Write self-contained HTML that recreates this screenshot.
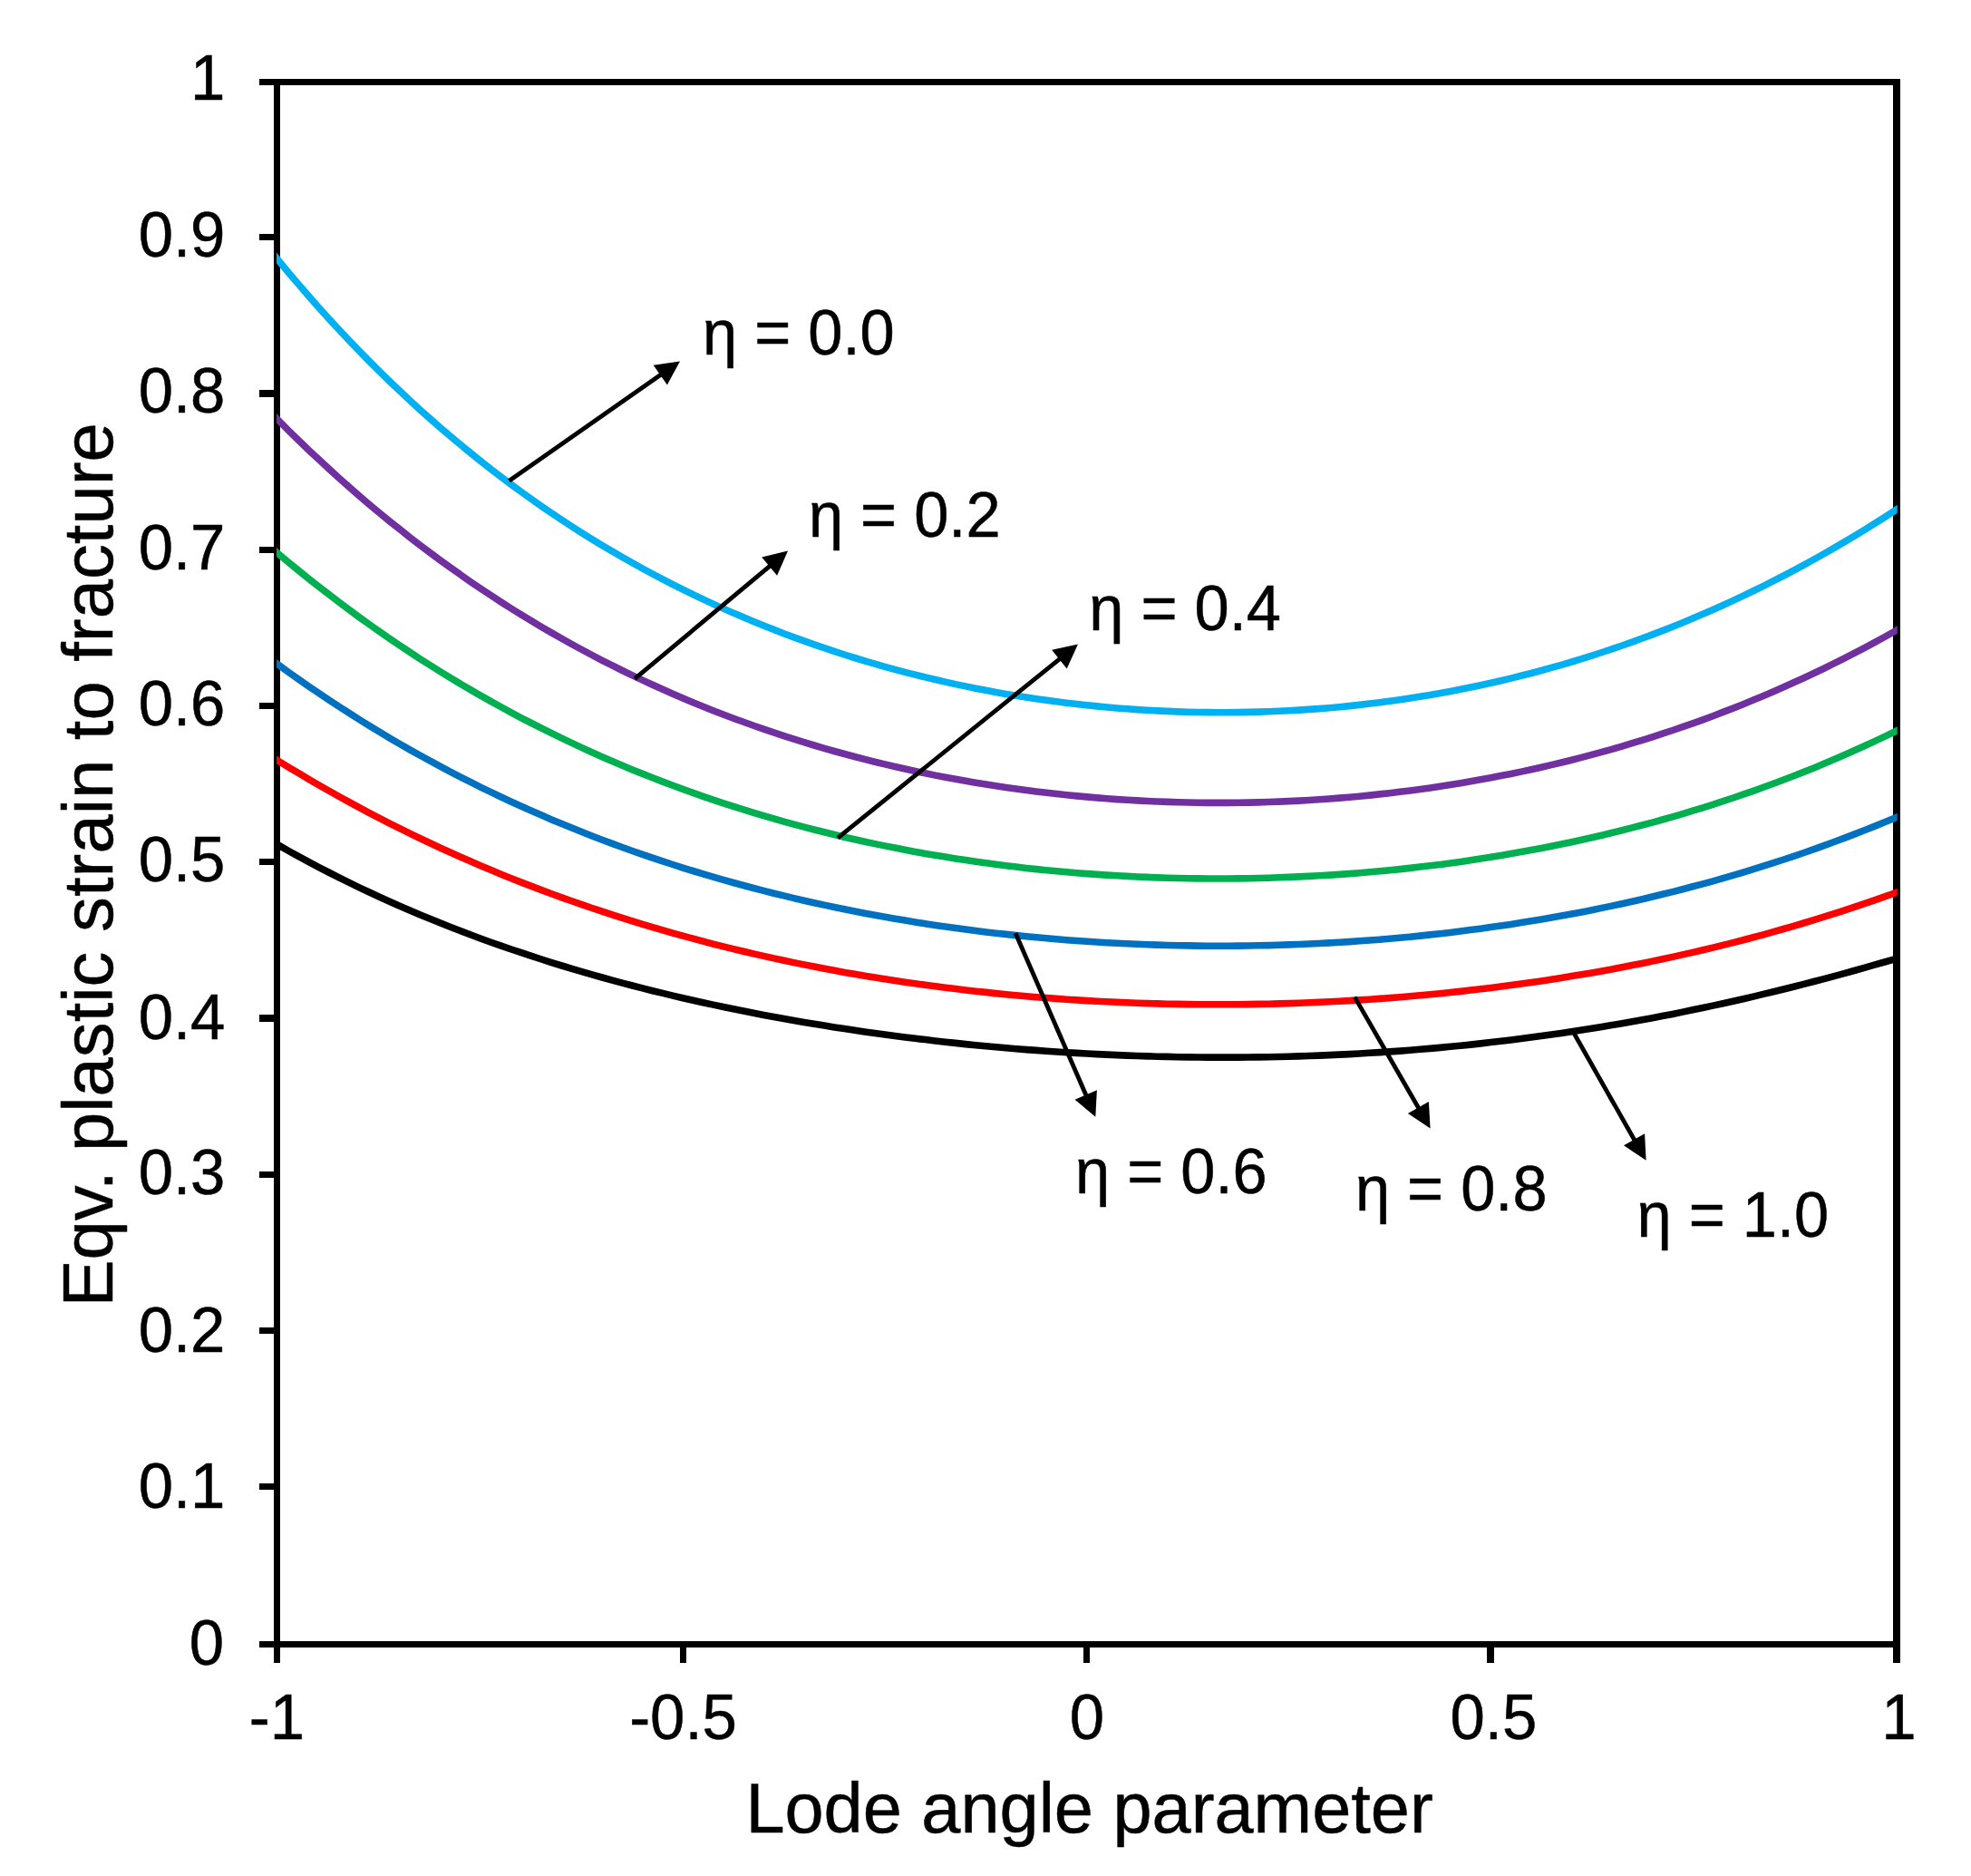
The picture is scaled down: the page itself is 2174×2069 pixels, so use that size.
<!DOCTYPE html>
<html lang="en"><head><meta charset="utf-8"><title>Fracture locus</title>
<style>
html,body{margin:0;padding:0;background:#fff}
svg{display:block}
text{font-family:"Liberation Sans",Arial,Helvetica,sans-serif;fill:#000;stroke:#000;stroke-width:0.5px}
</style></head><body>
<svg width="2174" height="2069" viewBox="0 0 2174 2069">
<rect width="2174" height="2069" fill="#fff"/>
<g stroke="#000" stroke-width="7.2" fill="none" shape-rendering="crispEdges">
<rect x="305.5" y="90.5" width="1786.5" height="1722.95"/>
<line x1="286" y1="1813.5" x2="305.5" y2="1813.5"/>
<line x1="286" y1="1639.7" x2="305.5" y2="1639.7"/>
<line x1="286" y1="1467.4" x2="305.5" y2="1467.4"/>
<line x1="286" y1="1295.2" x2="305.5" y2="1295.2"/>
<line x1="286" y1="1122.9" x2="305.5" y2="1122.9"/>
<line x1="286" y1="950.7" x2="305.5" y2="950.7"/>
<line x1="286" y1="778.5" x2="305.5" y2="778.5"/>
<line x1="286" y1="606.2" x2="305.5" y2="606.2"/>
<line x1="286" y1="434.0" x2="305.5" y2="434.0"/>
<line x1="286" y1="261.7" x2="305.5" y2="261.7"/>
<line x1="286" y1="90.5" x2="305.5" y2="90.5"/>
<line x1="305.5" y1="1813.45" x2="305.5" y2="1834"/>
<line x1="753.5" y1="1813.45" x2="753.5" y2="1834"/>
<line x1="1198.8" y1="1813.45" x2="1198.8" y2="1834"/>
<line x1="1644.0" y1="1813.45" x2="1644.0" y2="1834"/>
<line x1="2092.0" y1="1813.45" x2="2092.0" y2="1834"/>
</g>
<defs><clipPath id="plotclip"><rect x="305.0" y="90.5" width="1787.7" height="1722.95"/></clipPath></defs>
<g fill="none" stroke-width="7.6" stroke-linejoin="round" clip-path="url(#plotclip)">
<polyline stroke="#00B0F0" points="296.6,274.2 307.7,287.9 318.8,301.3 330.0,314.4 341.1,327.3 352.3,339.9 363.4,352.2 374.5,364.3 385.7,376.1 396.8,387.7 407.9,399.0 419.1,410.1 430.2,421.0 441.4,431.6 452.5,442.0 463.6,452.2 474.8,462.1 485.9,471.9 497.1,481.4 508.2,490.7 519.3,499.8 530.5,508.8 541.6,517.5 552.7,526.0 563.9,534.4 575.0,542.5 586.2,550.5 597.3,558.3 608.4,565.9 619.6,573.3 630.7,580.6 641.8,587.7 653.0,594.7 664.1,601.4 675.3,608.1 686.4,614.5 697.5,620.8 708.7,627.0 719.8,633.0 731.0,638.9 742.1,644.6 753.2,650.2 764.4,655.6 775.5,660.9 786.6,666.1 797.8,671.1 808.9,676.1 820.1,680.8 831.2,685.5 842.3,690.0 853.5,694.4 864.6,698.7 875.7,702.9 886.9,706.9 898.0,710.9 909.2,714.7 920.3,718.4 931.4,722.0 942.6,725.5 953.7,728.9 964.9,732.1 976.0,735.3 987.1,738.3 998.3,741.3 1009.4,744.1 1020.5,746.9 1031.7,749.5 1042.8,752.1 1054.0,754.6 1065.1,756.9 1076.2,759.2 1087.4,761.3 1098.5,763.4 1109.6,765.4 1120.8,767.2 1131.9,769.0 1143.1,770.7 1154.2,772.3 1165.3,773.8 1176.5,775.2 1187.6,776.6 1198.8,777.8 1209.9,778.9 1221.0,780.0 1232.2,781.0 1243.3,781.8 1254.4,782.6 1265.6,783.3 1276.7,783.9 1287.9,784.4 1299.0,784.9 1310.1,785.2 1321.3,785.5 1332.4,785.6 1343.5,785.7 1354.7,785.7 1365.8,785.6 1377.0,785.4 1388.1,785.1 1399.2,784.8 1410.4,784.3 1421.5,783.8 1432.6,783.1 1443.8,782.4 1454.9,781.6 1466.1,780.7 1477.2,779.7 1488.3,778.6 1499.5,777.4 1510.6,776.1 1521.8,774.7 1532.9,773.2 1544.0,771.7 1555.2,770.0 1566.3,768.3 1577.4,766.4 1588.6,764.5 1599.7,762.4 1610.9,760.3 1622.0,758.0 1633.1,755.7 1644.3,753.3 1655.4,750.7 1666.5,748.1 1677.7,745.3 1688.8,742.5 1700.0,739.5 1711.1,736.4 1722.2,733.3 1733.4,730.0 1744.5,726.6 1755.7,723.1 1766.8,719.5 1777.9,715.8 1789.1,712.0 1800.2,708.1 1811.3,704.0 1822.5,699.9 1833.6,695.6 1844.8,691.2 1855.9,686.7 1867.0,682.1 1878.2,677.3 1889.3,672.5 1900.4,667.5 1911.6,662.4 1922.7,657.1 1933.9,651.8 1945.0,646.3 1956.1,640.7 1967.3,635.0 1978.4,629.1 1989.6,623.1 2000.7,617.0 2011.8,610.8 2023.0,604.4 2034.1,597.9 2045.2,591.3 2056.4,584.5 2067.5,577.6 2078.7,570.5 2089.8,563.3 2100.9,556.0"/>
<polyline stroke="#7030A0" points="296.6,452.8 307.7,464.1 318.8,475.3 330.0,486.2 341.1,496.9 352.3,507.3 363.4,517.6 374.5,527.7 385.7,537.6 396.8,547.3 407.9,556.8 419.1,566.1 430.2,575.2 441.4,584.1 452.5,592.9 463.6,601.5 474.8,609.9 485.9,618.1 497.1,626.2 508.2,634.0 519.3,641.8 530.5,649.3 541.6,656.7 552.7,664.0 563.9,671.1 575.0,678.0 586.2,684.8 597.3,691.4 608.4,697.9 619.6,704.3 630.7,710.5 641.8,716.5 653.0,722.5 664.1,728.3 675.3,733.9 686.4,739.5 697.5,744.9 708.7,750.1 719.8,755.3 731.0,760.3 742.1,765.2 753.2,770.0 764.4,774.7 775.5,779.2 786.6,783.7 797.8,788.0 808.9,792.2 820.1,796.3 831.2,800.3 842.3,804.2 853.5,807.9 864.6,811.6 875.7,815.2 886.9,818.7 898.0,822.0 909.2,825.3 920.3,828.5 931.4,831.5 942.6,834.5 953.7,837.4 964.9,840.2 976.0,842.9 987.1,845.5 998.3,848.0 1009.4,850.5 1020.5,852.8 1031.7,855.1 1042.8,857.2 1054.0,859.3 1065.1,861.3 1076.2,863.2 1087.4,865.1 1098.5,866.8 1109.6,868.5 1120.8,870.1 1131.9,871.6 1143.1,873.0 1154.2,874.3 1165.3,875.6 1176.5,876.8 1187.6,877.9 1198.8,878.9 1209.9,879.9 1221.0,880.8 1232.2,881.6 1243.3,882.3 1254.4,882.9 1265.6,883.5 1276.7,884.0 1287.9,884.4 1299.0,884.8 1310.1,885.0 1321.3,885.2 1332.4,885.4 1343.5,885.4 1354.7,885.4 1365.8,885.3 1377.0,885.1 1388.1,884.9 1399.2,884.5 1410.4,884.1 1421.5,883.6 1432.6,883.1 1443.8,882.5 1454.9,881.8 1466.1,881.0 1477.2,880.1 1488.3,879.2 1499.5,878.2 1510.6,877.1 1521.8,875.9 1532.9,874.7 1544.0,873.3 1555.2,871.9 1566.3,870.4 1577.4,868.9 1588.6,867.2 1599.7,865.5 1610.9,863.7 1622.0,861.8 1633.1,859.8 1644.3,857.8 1655.4,855.6 1666.5,853.4 1677.7,851.1 1688.8,848.7 1700.0,846.2 1711.1,843.6 1722.2,841.0 1733.4,838.2 1744.5,835.4 1755.7,832.4 1766.8,829.4 1777.9,826.3 1789.1,823.1 1800.2,819.7 1811.3,816.3 1822.5,812.8 1833.6,809.2 1844.8,805.5 1855.9,801.7 1867.0,797.8 1878.2,793.8 1889.3,789.7 1900.4,785.4 1911.6,781.1 1922.7,776.7 1933.9,772.1 1945.0,767.5 1956.1,762.7 1967.3,757.8 1978.4,752.8 1989.6,747.7 2000.7,742.5 2011.8,737.2 2023.0,731.7 2034.1,726.1 2045.2,720.4 2056.4,714.6 2067.5,708.6 2078.7,702.5 2089.8,696.3 2100.9,690.0"/>
<polyline stroke="#00B050" points="296.6,601.9 307.7,611.3 318.8,620.6 330.0,629.8 341.1,638.7 352.3,647.5 363.4,656.1 374.5,664.6 385.7,672.9 396.8,681.1 407.9,689.0 419.1,696.9 430.2,704.6 441.4,712.1 452.5,719.5 463.6,726.8 474.8,733.9 485.9,740.9 497.1,747.7 508.2,754.4 519.3,760.9 530.5,767.4 541.6,773.6 552.7,779.8 563.9,785.8 575.0,791.8 586.2,797.5 597.3,803.2 608.4,808.7 619.6,814.1 630.7,819.4 641.8,824.6 653.0,829.7 664.1,834.7 675.3,839.5 686.4,844.2 697.5,848.9 708.7,853.4 719.8,857.8 731.0,862.1 742.1,866.3 753.2,870.4 764.4,874.4 775.5,878.3 786.6,882.1 797.8,885.8 808.9,889.4 820.1,892.9 831.2,896.3 842.3,899.7 853.5,902.9 864.6,906.1 875.7,909.1 886.9,912.1 898.0,915.0 909.2,917.8 920.3,920.5 931.4,923.2 942.6,925.7 953.7,928.2 964.9,930.6 976.0,932.9 987.1,935.1 998.3,937.3 1009.4,939.4 1020.5,941.4 1031.7,943.3 1042.8,945.1 1054.0,946.9 1065.1,948.6 1076.2,950.3 1087.4,951.8 1098.5,953.3 1109.6,954.7 1120.8,956.1 1131.9,957.4 1143.1,958.6 1154.2,959.7 1165.3,960.8 1176.5,961.8 1187.6,962.7 1198.8,963.6 1209.9,964.4 1221.0,965.1 1232.2,965.8 1243.3,966.4 1254.4,967.0 1265.6,967.4 1276.7,967.9 1287.9,968.2 1299.0,968.5 1310.1,968.7 1321.3,968.9 1332.4,969.0 1343.5,969.0 1354.7,969.0 1365.8,968.9 1377.0,968.7 1388.1,968.5 1399.2,968.2 1410.4,967.8 1421.5,967.4 1432.6,966.9 1443.8,966.4 1454.9,965.8 1466.1,965.1 1477.2,964.4 1488.3,963.6 1499.5,962.7 1510.6,961.8 1521.8,960.8 1532.9,959.7 1544.0,958.6 1555.2,957.4 1566.3,956.1 1577.4,954.8 1588.6,953.4 1599.7,951.9 1610.9,950.4 1622.0,948.7 1633.1,947.1 1644.3,945.3 1655.4,943.5 1666.5,941.6 1677.7,939.6 1688.8,937.6 1700.0,935.5 1711.1,933.3 1722.2,931.0 1733.4,928.7 1744.5,926.2 1755.7,923.7 1766.8,921.2 1777.9,918.5 1789.1,915.8 1800.2,912.9 1811.3,910.0 1822.5,907.1 1833.6,904.0 1844.8,900.8 1855.9,897.6 1867.0,894.2 1878.2,890.8 1889.3,887.3 1900.4,883.7 1911.6,880.0 1922.7,876.2 1933.9,872.3 1945.0,868.3 1956.1,864.2 1967.3,860.0 1978.4,855.7 1989.6,851.4 2000.7,846.9 2011.8,842.3 2023.0,837.6 2034.1,832.7 2045.2,827.8 2056.4,822.8 2067.5,817.6 2078.7,812.4 2089.8,807.0 2100.9,801.5"/>
<polyline stroke="#0070C0" points="296.6,725.4 307.7,733.6 318.8,741.7 330.0,749.6 341.1,757.3 352.3,764.9 363.4,772.4 374.5,779.7 385.7,786.8 396.8,793.9 407.9,800.8 419.1,807.5 430.2,814.2 441.4,820.7 452.5,827.1 463.6,833.3 474.8,839.4 485.9,845.4 497.1,851.3 508.2,857.1 519.3,862.7 530.5,868.3 541.6,873.7 552.7,879.0 563.9,884.2 575.0,889.3 586.2,894.2 597.3,899.1 608.4,903.9 619.6,908.6 630.7,913.1 641.8,917.6 653.0,922.0 664.1,926.2 675.3,930.4 686.4,934.5 697.5,938.5 708.7,942.4 719.8,946.2 731.0,949.9 742.1,953.5 753.2,957.1 764.4,960.5 775.5,963.9 786.6,967.2 797.8,970.4 808.9,973.5 820.1,976.5 831.2,979.5 842.3,982.4 853.5,985.2 864.6,987.9 875.7,990.6 886.9,993.2 898.0,995.7 909.2,998.1 920.3,1000.5 931.4,1002.8 942.6,1005.0 953.7,1007.2 964.9,1009.3 976.0,1011.3 987.1,1013.2 998.3,1015.1 1009.4,1016.9 1020.5,1018.7 1031.7,1020.4 1042.8,1022.0 1054.0,1023.6 1065.1,1025.1 1076.2,1026.5 1087.4,1027.9 1098.5,1029.2 1109.6,1030.4 1120.8,1031.6 1131.9,1032.8 1143.1,1033.8 1154.2,1034.8 1165.3,1035.8 1176.5,1036.7 1187.6,1037.5 1198.8,1038.3 1209.9,1039.0 1221.0,1039.7 1232.2,1040.3 1243.3,1040.8 1254.4,1041.3 1265.6,1041.8 1276.7,1042.1 1287.9,1042.5 1299.0,1042.7 1310.1,1042.9 1321.3,1043.1 1332.4,1043.2 1343.5,1043.2 1354.7,1043.2 1365.8,1043.1 1377.0,1043.0 1388.1,1042.8 1399.2,1042.6 1410.4,1042.3 1421.5,1041.9 1432.6,1041.5 1443.8,1041.0 1454.9,1040.5 1466.1,1039.9 1477.2,1039.3 1488.3,1038.6 1499.5,1037.8 1510.6,1037.0 1521.8,1036.2 1532.9,1035.2 1544.0,1034.2 1555.2,1033.2 1566.3,1032.1 1577.4,1030.9 1588.6,1029.7 1599.7,1028.4 1610.9,1027.0 1622.0,1025.6 1633.1,1024.2 1644.3,1022.6 1655.4,1021.0 1666.5,1019.4 1677.7,1017.6 1688.8,1015.8 1700.0,1014.0 1711.1,1012.0 1722.2,1010.1 1733.4,1008.0 1744.5,1005.9 1755.7,1003.7 1766.8,1001.4 1777.9,999.1 1789.1,996.7 1800.2,994.2 1811.3,991.7 1822.5,989.0 1833.6,986.3 1844.8,983.6 1855.9,980.7 1867.0,977.8 1878.2,974.8 1889.3,971.8 1900.4,968.6 1911.6,965.4 1922.7,962.1 1933.9,958.7 1945.0,955.2 1956.1,951.7 1967.3,948.0 1978.4,944.3 1989.6,940.5 2000.7,936.6 2011.8,932.6 2023.0,928.5 2034.1,924.4 2045.2,920.1 2056.4,915.8 2067.5,911.4 2078.7,906.8 2089.8,902.2 2100.9,897.5"/>
<polyline stroke="#FF0000" points="296.6,832.6 307.7,839.6 318.8,846.4 330.0,853.1 341.1,859.7 352.3,866.2 363.4,872.5 374.5,878.8 385.7,884.9 396.8,890.9 407.9,896.8 419.1,902.6 430.2,908.3 441.4,913.9 452.5,919.4 463.6,924.7 474.8,930.0 485.9,935.2 497.1,940.3 508.2,945.2 519.3,950.1 530.5,954.9 541.6,959.6 552.7,964.2 563.9,968.7 575.0,973.1 586.2,977.4 597.3,981.6 608.4,985.8 619.6,989.8 630.7,993.8 641.8,997.7 653.0,1001.5 664.1,1005.2 675.3,1008.9 686.4,1012.4 697.5,1015.9 708.7,1019.3 719.8,1022.7 731.0,1025.9 742.1,1029.1 753.2,1032.2 764.4,1035.2 775.5,1038.2 786.6,1041.1 797.8,1043.9 808.9,1046.6 820.1,1049.3 831.2,1051.9 842.3,1054.4 853.5,1056.9 864.6,1059.3 875.7,1061.6 886.9,1063.9 898.0,1066.1 909.2,1068.3 920.3,1070.3 931.4,1072.4 942.6,1074.3 953.7,1076.2 964.9,1078.1 976.0,1079.8 987.1,1081.5 998.3,1083.2 1009.4,1084.8 1020.5,1086.3 1031.7,1087.8 1042.8,1089.3 1054.0,1090.6 1065.1,1092.0 1076.2,1093.2 1087.4,1094.4 1098.5,1095.6 1109.6,1096.7 1120.8,1097.7 1131.9,1098.7 1143.1,1099.7 1154.2,1100.5 1165.3,1101.4 1176.5,1102.2 1187.6,1102.9 1198.8,1103.6 1209.9,1104.2 1221.0,1104.8 1232.2,1105.3 1243.3,1105.8 1254.4,1106.2 1265.6,1106.6 1276.7,1106.9 1287.9,1107.2 1299.0,1107.4 1310.1,1107.6 1321.3,1107.7 1332.4,1107.8 1343.5,1107.8 1354.7,1107.8 1365.8,1107.7 1377.0,1107.6 1388.1,1107.4 1399.2,1107.2 1410.4,1106.9 1421.5,1106.6 1432.6,1106.2 1443.8,1105.8 1454.9,1105.3 1466.1,1104.8 1477.2,1104.2 1488.3,1103.6 1499.5,1102.9 1510.6,1102.2 1521.8,1101.4 1532.9,1100.6 1544.0,1099.7 1555.2,1098.8 1566.3,1097.8 1577.4,1096.8 1588.6,1095.7 1599.7,1094.5 1610.9,1093.4 1622.0,1092.1 1633.1,1090.8 1644.3,1089.5 1655.4,1088.1 1666.5,1086.6 1677.7,1085.1 1688.8,1083.5 1700.0,1081.9 1711.1,1080.2 1722.2,1078.4 1733.4,1076.6 1744.5,1074.8 1755.7,1072.9 1766.8,1070.9 1777.9,1068.9 1789.1,1066.8 1800.2,1064.6 1811.3,1062.4 1822.5,1060.1 1833.6,1057.8 1844.8,1055.4 1855.9,1052.9 1867.0,1050.4 1878.2,1047.8 1889.3,1045.1 1900.4,1042.4 1911.6,1039.6 1922.7,1036.7 1933.9,1033.8 1945.0,1030.8 1956.1,1027.7 1967.3,1024.5 1978.4,1021.3 1989.6,1018.0 2000.7,1014.6 2011.8,1011.2 2023.0,1007.7 2034.1,1004.1 2045.2,1000.4 2056.4,996.7 2067.5,992.8 2078.7,988.9 2089.8,985.0 2100.9,980.9"/>
<polyline stroke="#000000" points="296.6,925.9 307.7,932.4 318.8,938.7 330.0,944.8 341.1,950.9 352.3,956.8 363.4,962.5 374.5,968.2 385.7,973.7 396.8,979.1 407.9,984.3 419.1,989.5 430.2,994.5 441.4,999.4 452.5,1004.3 463.6,1009.0 474.8,1013.6 485.9,1018.1 497.1,1022.5 508.2,1026.8 519.3,1031.0 530.5,1035.2 541.6,1039.2 552.7,1043.1 563.9,1047.0 575.0,1050.7 586.2,1054.4 597.3,1058.0 608.4,1061.6 619.6,1065.0 630.7,1068.4 641.8,1071.6 653.0,1074.9 664.1,1078.0 675.3,1081.1 686.4,1084.1 697.5,1087.0 708.7,1089.9 719.8,1092.7 731.0,1095.4 742.1,1098.1 753.2,1100.7 764.4,1103.2 775.5,1105.7 786.6,1108.1 797.8,1110.5 808.9,1112.8 820.1,1115.0 831.2,1117.2 842.3,1119.4 853.5,1121.5 864.6,1123.5 875.7,1125.5 886.9,1127.4 898.0,1129.3 909.2,1131.1 920.3,1132.9 931.4,1134.6 942.6,1136.3 953.7,1137.9 964.9,1139.5 976.0,1141.0 987.1,1142.5 998.3,1143.9 1009.4,1145.3 1020.5,1146.6 1031.7,1147.9 1042.8,1149.2 1054.0,1150.4 1065.1,1151.6 1076.2,1152.7 1087.4,1153.7 1098.5,1154.8 1109.6,1155.8 1120.8,1156.7 1131.9,1157.6 1143.1,1158.4 1154.2,1159.2 1165.3,1160.0 1176.5,1160.7 1187.6,1161.4 1198.8,1162.0 1209.9,1162.6 1221.0,1163.1 1232.2,1163.6 1243.3,1164.1 1254.4,1164.5 1265.6,1164.9 1276.7,1165.2 1287.9,1165.4 1299.0,1165.7 1310.1,1165.9 1321.3,1166.0 1332.4,1166.1 1343.5,1166.1 1354.7,1166.1 1365.8,1166.1 1377.0,1166.0 1388.1,1165.9 1399.2,1165.7 1410.4,1165.5 1421.5,1165.2 1432.6,1164.9 1443.8,1164.5 1454.9,1164.1 1466.1,1163.6 1477.2,1163.1 1488.3,1162.6 1499.5,1162.0 1510.6,1161.3 1521.8,1160.6 1532.9,1159.9 1544.0,1159.1 1555.2,1158.2 1566.3,1157.3 1577.4,1156.4 1588.6,1155.4 1599.7,1154.3 1610.9,1153.2 1622.0,1152.1 1633.1,1150.9 1644.3,1149.6 1655.4,1148.3 1666.5,1147.0 1677.7,1145.6 1688.8,1144.1 1700.0,1142.6 1711.1,1141.1 1722.2,1139.5 1733.4,1137.8 1744.5,1136.1 1755.7,1134.3 1766.8,1132.5 1777.9,1130.6 1789.1,1128.7 1800.2,1126.7 1811.3,1124.7 1822.5,1122.7 1833.6,1120.5 1844.8,1118.4 1855.9,1116.1 1867.0,1113.8 1878.2,1111.5 1889.3,1109.1 1900.4,1106.7 1911.6,1104.2 1922.7,1101.7 1933.9,1099.1 1945.0,1096.4 1956.1,1093.8 1967.3,1091.0 1978.4,1088.2 1989.6,1085.4 2000.7,1082.5 2011.8,1079.6 2023.0,1076.6 2034.1,1073.6 2045.2,1070.5 2056.4,1067.4 2067.5,1064.2 2078.7,1061.0 2089.8,1057.8 2100.9,1054.5"/>
</g>
<g stroke="#000" fill="#000">
<line x1="561.6" y1="530.3" x2="729.9" y2="412.5" stroke-width="4.8"/><polygon stroke="none" points="750.0,398.4 735.9,424.5 720.7,402.7"/>
<line x1="700.1" y1="748.6" x2="850.2" y2="623.3" stroke-width="4.8"/><polygon stroke="none" points="869.0,607.6 857.1,634.8 840.2,614.4"/>
<line x1="924.1" y1="924.1" x2="1169.9" y2="725.8" stroke-width="4.8"/><polygon stroke="none" points="1189.0,710.4 1176.7,737.4 1160.1,716.7"/>
<line x1="1120.0" y1="1029.0" x2="1198.5" y2="1209.3" stroke-width="4.8"/><polygon stroke="none" points="1208.3,1231.8 1185.6,1212.8 1209.9,1202.2"/>
<line x1="1494.2" y1="1099.6" x2="1565.4" y2="1223.3" stroke-width="4.8"/><polygon stroke="none" points="1577.6,1244.5 1552.9,1228.1 1575.9,1214.9"/>
<line x1="1733.8" y1="1135.5" x2="1803.5" y2="1258.5" stroke-width="4.8"/><polygon stroke="none" points="1815.6,1279.8 1791.0,1263.3 1814.1,1250.2"/>
</g>
<g font-size="68.9">
<text transform="translate(775.0,391.3) scale(1,1.02)" font-size="68.6">η = 0.0</text>
<text transform="translate(891.9,591.8) scale(1,1.02)" font-size="68.6">η = 0.2</text>
<text transform="translate(1201.2,694.5) scale(1,1.02)" font-size="68.6">η = 0.4</text>
<text transform="translate(1186.0,1316.2) scale(1,1.02)" font-size="68.6">η = 0.6</text>
<text transform="translate(1494.9,1334.9) scale(1,1.02)" font-size="68.6">η = 0.8</text>
<text transform="translate(1805.5,1363.8) scale(1,1.02)" font-size="68.6">η = 1.0</text>
<text transform="translate(247.0,1836.2) scale(1,1.02)" text-anchor="end">0</text>
<text transform="translate(248.4,1662.8) scale(1,1.02)" text-anchor="end">0.1</text>
<text transform="translate(248.4,1491.1) scale(1,1.02)" text-anchor="end">0.2</text>
<text transform="translate(248.4,1317.4) scale(1,1.02)" text-anchor="end">0.3</text>
<text transform="translate(248.4,1145.5) scale(1,1.02)" text-anchor="end">0.4</text>
<text transform="translate(248.4,972.3) scale(1,1.02)" text-anchor="end">0.5</text>
<text transform="translate(248.4,799.8) scale(1,1.02)" text-anchor="end">0.6</text>
<text transform="translate(248.4,628.0) scale(1,1.02)" text-anchor="end">0.7</text>
<text transform="translate(248.4,454.8) scale(1,1.02)" text-anchor="end">0.8</text>
<text transform="translate(248.4,283.1) scale(1,1.02)" text-anchor="end">0.9</text>
<text transform="translate(248.4,110.0) scale(1,1.02)" text-anchor="end">1</text>
<text transform="translate(305.5,1918.0) scale(1,1.02)" text-anchor="middle">-1</text>
<text transform="translate(753.5,1918.0) scale(1,1.02)" text-anchor="middle">-0.5</text>
<text transform="translate(1198.8,1918.0) scale(1,1.02)" text-anchor="middle">0</text>
<text transform="translate(1647.4,1918.0) scale(1,1.02)" text-anchor="middle">0.5</text>
<text transform="translate(2094.3,1918.0) scale(1,1.02)" text-anchor="middle">1</text>
</g>
<text x="822.4" y="2021.0" font-size="77.5">Lode angle parameter</text>
<text transform="translate(124.1,1441.3) rotate(-90)" font-size="77.75">Eqv. plastic strain to fracture</text>
</svg>
</body></html>
